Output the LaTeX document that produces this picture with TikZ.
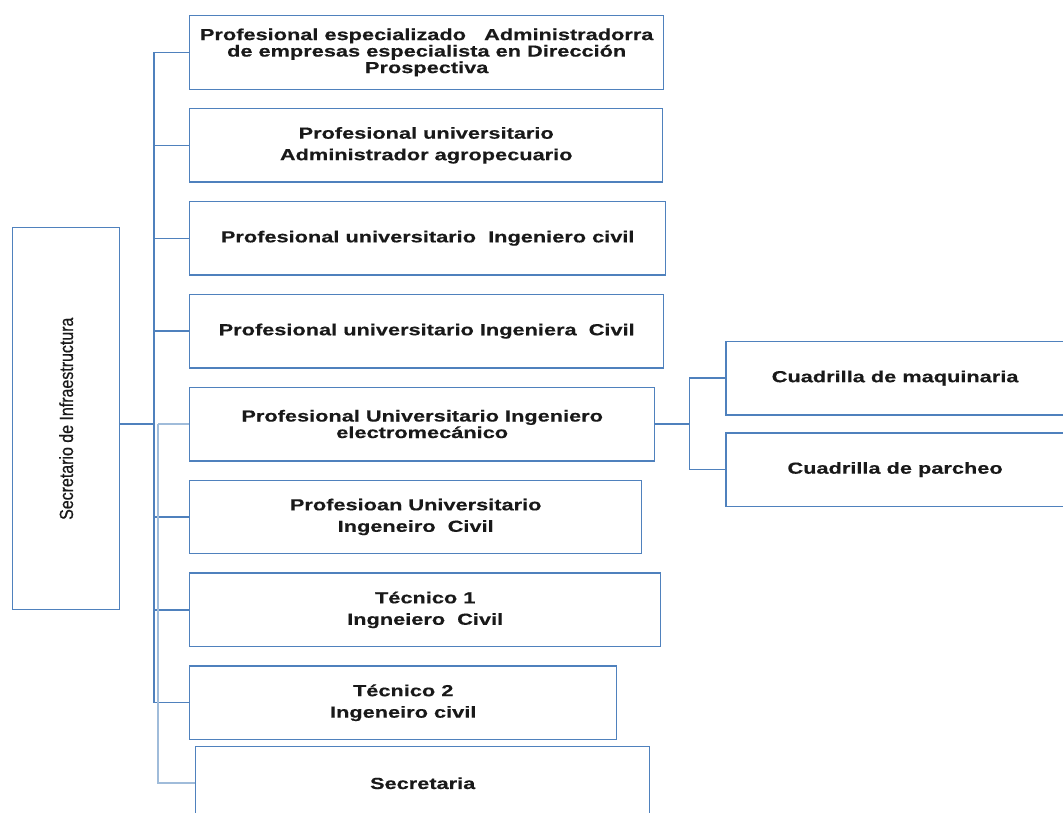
\documentclass[tikz,border=0pt]{standalone}
\usepackage{fontspec}
\setmainfont{Liberation Sans}
\newfontfamily\postfont[FakeStretch=1.36, FakeBold=0.4]{Liberation Sans}
\newfontfamily\sidefont[FakeStretch=0.84, FakeBold=0.6]{Liberation Sans}
\usepackage{tikz}
\usetikzlibrary{positioning}

\definecolor{orgblue}{RGB}{79,129,189}
\definecolor{orgpale}{RGB}{160,188,218}

\begin{document}
\begin{tikzpicture}[x=1pt, y=-1pt, node distance=18pt,
    every node/.style={align=center, text=black!90},
    post/.style={draw=orgblue, line width=1.4pt, minimum height=73.5pt, inner sep=0pt,
        font=\postfont\bfseries\fontsize{16}{16.5}\selectfont},
    loose/.style={font=\postfont\bfseries\fontsize{16}{21.5}\selectfont},
    link/.style={draw=orgblue, line width=1.4pt},
    palelink/.style={draw=orgpale, line width=1.6pt}]
    \useasboundingbox (0,0) rectangle (1063,812);

    % head of the office
    \node[draw=orgblue, line width=1.4pt, minimum width=107pt, minimum height=382pt, anchor=north west] (head) at (12,227)
        {\rotatebox{90}{\sidefont\fontsize{19}{20}\selectfont Secretario de Infraestructura}};

    % staff column
    \node[post, anchor=north west, minimum width=474pt] (p1) at (189,15)
        {Profesional especializado \ \ Administradorra\\de empresas especialista en Dirección\\Prospectiva};
    \node[post, loose, below=of p1.south west, anchor=north west, minimum width=473pt] (p2)
        {Profesional universitario\\Administrador agropecuario};
    \node[post, below=of p2.south west, anchor=north west, minimum width=476pt] (p3)
        {Profesional universitario \ Ingeniero civil};
    \node[post, below=of p3.south west, anchor=north west, minimum width=474pt] (p4)
        {Profesional universitario Ingeniera \ Civil};
    \node[post, below=of p4.south west, anchor=north west, minimum width=465pt] (p5)
        {Profesional Universitario Ingeniero\\electromecánico};
    \node[post, loose, below=of p5.south west, anchor=north west, minimum width=452pt] (p6)
        {Profesioan Universitario\\Ingeneiro \ Civil};
    \node[post, loose, below=of p6.south west, anchor=north west, minimum width=471pt] (p7)
        {Técnico 1\\Ingneiero \ Civil};
    \node[post, loose, below=of p7.south west, anchor=north west, minimum width=427pt] (p8)
        {Técnico 2\\Ingeneiro civil};
    \node[post, below=5.6pt of p8.south west, xshift=6pt, anchor=north west, minimum width=454pt] (p9)
        {Secretaria};

    % crews
    \node[post, anchor=north west, minimum width=338pt] (c1) at ([xshift=70pt, yshift=46pt]p5.north east)
        {Cuadrilla de maquinaria};
    \node[post, below=16.6pt of c1.south west, anchor=north west, minimum width=338pt] (c2)
        {Cuadrilla de parcheo};

    % connectors
    \coordinate (spine) at (154,0);
    \coordinate (pale) at (158,0);
    \coordinate (fork) at ([xshift=34pt]p5.east);

    \draw[link] (head.east |- p5.west) -- (p5.west -| spine);
    \draw[link] (p1.west -| spine) -- (p8.west -| spine);
    \foreach \i in {1,2,3,4,6,7,8}
        \draw[link] (p\i.west -| spine) -- (p\i.west);
    \draw[palelink] (p5.west -| pale) -- (p9.west -| pale) -- (p9.west);
    \draw[palelink] (p5.west -| pale) -- (p5.west);

    \draw[link] (p5.east) -- (fork);
    \draw[link] (c1.west -| fork) -- (c2.west -| fork);
    \draw[link] (c1.west -| fork) -- (c1.west);
    \draw[link] (c2.west -| fork) -- (c2.west);
\end{tikzpicture}
\end{document}
